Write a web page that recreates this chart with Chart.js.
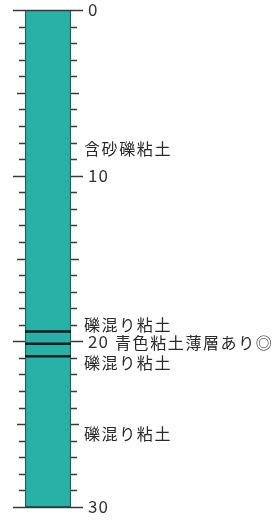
<!DOCTYPE html>
<html>
<head>
<meta charset="utf-8">
<script src="https://cdn.jsdelivr.net/npm/chart.js@4/dist/chart.umd.min.js"></script>
<style>
  html, body { margin: 0; padding: 0; background: #fff; }
  #wrap { width: 278px; height: 520px; }
</style>
</head>
<body>
<div id="wrap"><canvas id="boring-log"></canvas></div>
<script>
// depth column data
var depthRange = [0, 30];
var boundaryDepths = [19.4, 20.15, 20.9];
var layerLabels = ['含砂礫粘土', '礫混り粘土', '青色粘土薄層あり◎', '礫混り粘土', '礫混り粘土'];
var labelDepths = [8.4, 19.0, 20.1, 21.3, 25.6];
var tickLabels = [0, 10, 20, 30];

var fontFamily = "'Noto Sans CJK JP', 'Noto Sans', sans-serif";

var datasets = [{
    label: 'column',
    data: [depthRange],
    backgroundColor: '#27b1a7',
    borderColor: '#17645e',
    borderWidth: 1.5,
    borderSkipped: false,
    barPercentage: 1,
    categoryPercentage: 1,
    grouped: false,
    order: 2
}];

var boundarySets = boundaryDepths.map(function (d) {
    return {
        label: 'boundary',
        data: [[d - 0.055, d + 0.055]],
        backgroundColor: '#0d1f1e',
        borderWidth: 0,
        barPercentage: 1,
        categoryPercentage: 1,
        grouped: false,
        order: 1
    };
});
datasets = datasets.concat(boundarySets);

// tick marks on both sides of the column, depth numbers, layer notes
var logPlugin = {
    id: 'logPlugin',
    afterDatasetsDraw: function (chart) {
        var ctx = chart.ctx;
        var area = chart.chartArea;
        var y = chart.scales.y;
        ctx.save();
        ctx.strokeStyle = '#3a3a3a';
        ctx.lineWidth = 1.5;
        for (var i = depthRange[0]; i <= depthRange[1]; i++) {
            var py = Math.round(y.getPixelForValue(i)) + 0.5;
            var len = (i % 10 === 0) ? 12 : (i % 5 === 0) ? 8 : 6;
            ctx.beginPath();
            if (i === depthRange[0] || i === depthRange[1]) {
                ctx.moveTo(area.left - len, py);
                ctx.lineTo(area.right + len, py);
            } else {
                ctx.moveTo(area.left - len, py);
                ctx.lineTo(area.left, py);
                ctx.moveTo(area.right, py);
                ctx.lineTo(area.right + len, py);
            }
            ctx.stroke();
        }

        ctx.textBaseline = 'middle';
        ctx.fillStyle = '#333';
        ctx.font = '17px ' + fontFamily;
        ctx.letterSpacing = '1px';
        tickLabels.forEach(function (t) {
            ctx.fillText(String(t), area.right + 17, y.getPixelForValue(t));
        });

        ctx.fillStyle = '#2a2a2a';
        ctx.font = '16px ' + fontFamily;
        ctx.letterSpacing = '1.6px';
        for (var j = 0; j < layerLabels.length; j++) {
            var ly = y.getPixelForValue(labelDepths[j]);
            var lx = (layerLabels[j] === '青色粘土薄層あり◎') ? 115 : 84;
            ctx.fillText(layerLabels[j], lx, ly);
        }
        ctx.restore();
    }
};

var ctx = document.getElementById('boring-log');
var chart = new Chart(ctx, {
    type: 'bar',
    data: {
        labels: [''],
        datasets: datasets
    },
    options: {
        responsive: true,
        maintainAspectRatio: false,
        animation: false,
        layout: { padding: { left: 25, top: 10, bottom: 13, right: 0 } },
        plugins: {
            legend: { display: false },
            tooltip: { enabled: false }
        },
        scales: {
            x: { display: false },
            y: {
                position: 'right',
                reverse: true,
                min: depthRange[0],
                max: depthRange[1],
                afterFit: function (scale) { scale.width = 207; },
                grid: { display: false, drawTicks: false },
                border: { display: false },
                ticks: { display: false, stepSize: 1 }
            }
        }
    },
    plugins: [logPlugin]
});
</script>
</body>
</html>
